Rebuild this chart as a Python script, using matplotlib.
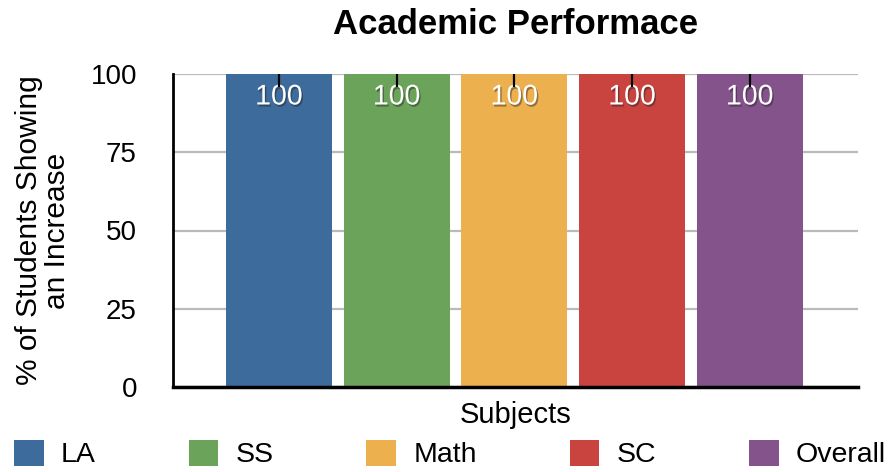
import matplotlib
matplotlib.use('Agg')
import matplotlib.pyplot as plt
import matplotlib.patheffects as pe
from matplotlib.patches import Patch

subjects = ['LA', 'SS', 'Math', 'SC', 'Overall']
values = [100, 100, 100, 100, 100]
colors = ['#3d6b9b', '#6ca35a', '#ecb04e', '#c9443f', '#84538c']
yticks = [0, 25, 50, 75, 100]

plt.rcParams['font.family'] = ['Liberation Sans', 'DejaVu Sans']

fig = plt.figure(figsize=(8.91, 4.72), dpi=100)
ax = fig.add_axes([173 / 891, 1 - 387 / 472, (858 - 173) / 891, (387 - 74) / 472])

x = list(range(len(subjects)))
ax.bar(x, values, width=0.9, color=colors, zorder=2)

for xi, v in zip(x, values):
    ax.text(xi, v - 7.5, str(v), ha='center', va='center', color='white', fontsize=20.5, zorder=4,
            path_effects=[pe.withSimplePatchShadow(offset=(1, -1.5), shadow_rgbFace='#222222', alpha=0.45)])

xlim = (-0.9, 4.92)
ax.set_xlim(*xlim)
ax.set_ylim(0, 100)
ax.set_yticks(yticks)
ax.tick_params(axis='y', length=0, labelsize=20, pad=26)
ax.yaxis.grid(True, color='#bababa', linewidth=1.6, zorder=0)
ax.set_axisbelow(True)
ax.set_xticks([])

for s in ['top', 'right']:
    ax.spines[s].set_visible(False)
ax.spines['left'].set_linewidth(2)
ax.spines['bottom'].set_linewidth(2.5)

# little tick marks along the top edge at bar centres, drawn over the bars
ax2 = ax.twiny()
ax2.set_xlim(*xlim)
ax2.set_xticks(x)
ax2.tick_params(axis='x', top=True, labeltop=False, direction='in', length=9.5, width=1.6, color='black')
for s in ax2.spines.values():
    s.set_visible(False)

ax.set_title('Academic Performace', fontsize=25, fontweight='bold', pad=29)
ax.set_xlabel('Subjects', fontsize=21, labelpad=10)
ax.set_ylabel('% of Students Showing\nan Increase', fontsize=21.5, linespacing=1.0, va='center')
ax.yaxis.set_label_coords(-0.19, 0.5)

handles = [Patch(facecolor=c, edgecolor='none') for c in colors]
fig.legend(handles, subjects, loc='center', bbox_to_anchor=(14 / 891, 1 - 469 / 472, 872 / 891, 30 / 472),
           mode='expand', ncol=5, frameon=False, fontsize=20.5, handlelength=1.05, handleheight=1.05,
           handletextpad=0.6, borderaxespad=0, borderpad=0)

fig.savefig('out.png', dpi=100)
